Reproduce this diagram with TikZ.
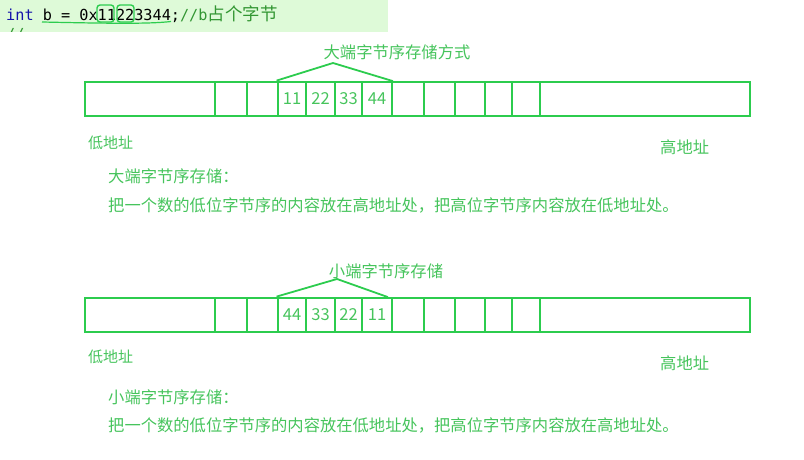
\documentclass[tikz,border=0pt]{standalone}
\usepackage{fontspec}
\setmainfont{Noto Sans CJK SC}
\newfontfamily\codefont{DejaVu Sans Mono}
\definecolor{boxgreen}{RGB}{44,204,78}
\definecolor{txtgreen}{RGB}{70,196,92}
\definecolor{codebg}{RGB}{222,250,216}
\definecolor{codeblue}{RGB}{20,20,170}
\definecolor{codegreen}{RGB}{50,150,50}

\tikzset{
	cell/.style={draw=boxgreen, line width=1.8pt, minimum height=34pt, inner sep=0pt,
		text=txtgreen, font=\fontsize{16.5}{16.5}\selectfont},
	bytebox/.style={cell, line width=2.8pt},
	lbl/.style={text=txtgreen, inner sep=0pt, font=\fontsize{16.3}{16.3}\selectfont},
	addr/.style={lbl, font=\fontsize{15}{15}\selectfont},
	tri/.style={draw=boxgreen, line width=1.8pt},
	pen/.style={draw=boxgreen, line width=1.4pt, rounded corners=3pt}
}

\begin{document}
\begin{tikzpicture}[x=1pt, y=-1pt]
	\useasboundingbox (0,0) rectangle (804,460);

	%code line on top
	\fill[codebg] (0,0) rectangle (388,32);
	\begin{scope}
		\clip (0,0) rectangle (388,32);
		\node[anchor=west, inner sep=0pt, font=\codefont\fontsize{15.2}{15.2}\selectfont] (code) at (6,14)
			{\textcolor{codeblue}{int} b = 0x11223344;\textcolor{codegreen}{//b{\fontspec{Noto Sans CJK SC}\fontsize{17.5}{17.5}\selectfont 占个字节}}};
		\node[anchor=west, inner sep=0pt, text=codegreen, font=\codefont\fontsize{15.2}{15.2}\selectfont] (nextline) at (6,35) {//};
	\end{scope}
	%hand marks on the code
	\draw[pen] (97,5) rectangle (114,22);
	\draw[pen] (117,5) rectangle (134,22);
	\draw[draw=boxgreen, line width=1.2pt] (42,22) .. controls (110,23.5) and (150,24) .. (171,21.5);

	%big endian
	\foreach \n/\l/\r/\v/\s in {1/85/215/{}/cell, 2/215/247/{}/cell, 3/247/278/{}/cell,
		4/278/306/11/bytebox, 5/306/335/22/cell, 6/335/362/33/bytebox, 7/362/392/44/cell,
		8/392/424/{}/cell, 9/424/455/{}/cell, 10/455/485/{}/bytebox, 11/485/512/{}/cell,
		12/512/540/{}/bytebox, 13/540/750/{}/cell}
		\node[\s, minimum width={(\r-\l)*1pt}] (t\n) at ({(\l+\r)/2},99) {\v};
	\node[lbl] (bigname) at (397,52) {大端字节序存储方式};
	\coordinate (bigtip) at (333,63);
	\draw[tri] (t4.north west) -- (bigtip) -- (t7.north east);
	\node[addr, anchor=west] (tlow) at (88,143) {低地址};
	\node[lbl, anchor=west] (thigh) at (660,147) {高地址};
	\node[lbl, anchor=west] (bighead) at (108,176) {大端字节序存储：};
	\node[lbl, anchor=west] (bigtext) at (108,205) {把一个数的低位字节序的内容放在高地址处，把高位字节序内容放在低地址处。};

	%little endian
	\foreach \n/\l/\r/\v/\s in {1/85/215/{}/cell, 2/215/247/{}/cell, 3/247/278/{}/cell,
		4/278/306/44/bytebox, 5/306/335/33/cell, 6/335/362/22/bytebox, 7/362/392/11/cell,
		8/392/424/{}/cell, 9/424/455/{}/cell, 10/455/485/{}/bytebox, 11/485/512/{}/cell,
		12/512/540/{}/bytebox, 13/540/750/{}/cell}
		\node[\s, minimum width={(\r-\l)*1pt}] (b\n) at ({(\l+\r)/2},315) {\v};
	\node[lbl] (smallname) at (386,271) {小端字节序存储};
	\coordinate (smalltip) at (337,279);
	\draw[tri] (b4.north west) -- (smalltip) -- ([xshift=-5pt]b7.north east);
	\node[addr, anchor=west] (blow) at (88,357) {低地址};
	\node[lbl, anchor=west] (bhigh) at (660,363) {高地址};
	\node[lbl, anchor=west] (smallhead) at (108,397) {小端字节序存储：};
	\node[lbl, anchor=west] (smalltext) at (108,425) {把一个数的低位字节序的内容放在低地址处，把高位字节序内容放在高地址处。};
\end{tikzpicture}
\end{document}
